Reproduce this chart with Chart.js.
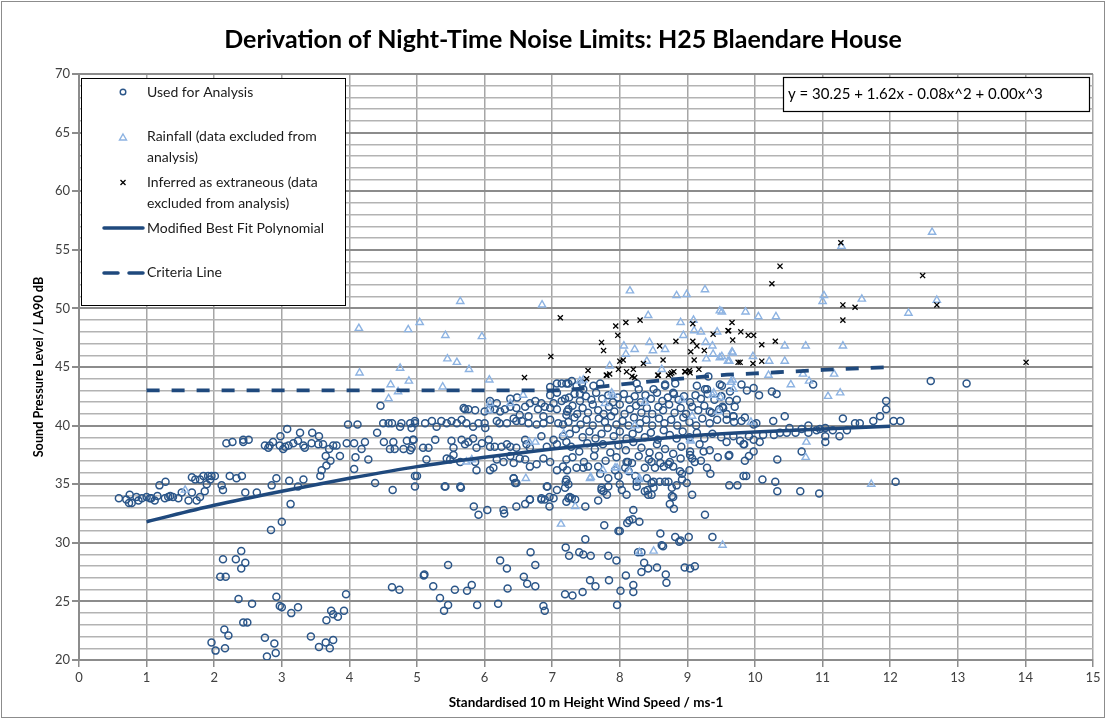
<!DOCTYPE html>
<html>
<head>
<meta charset="utf-8">
<script src="https://cdn.jsdelivr.net/npm/chart.js@4.4.0/dist/chart.umd.min.js"></script>
<style>
  html, body { margin: 0; padding: 0; background: #fff; }
  #wrap { width: 1112px; height: 724px; position: relative; }
</style>
</head>
<body>
<div id="wrap"><canvas id="chart" width="1112" height="724"></canvas></div>
<script>
const chartTitle = "Derivation of Night-Time Noise Limits: H25 Blaendare House";
const xAxisTitle = "Standardised 10 m Height Wind Speed / ms-1";
const yAxisTitle = "Sound Pressure Level / LA90 dB";
const equationText = "y = 30.25 + 1.62x - 0.08x^2 + 0.00x^3";

// used for analysis (circles)
const usedPoints = [
  [0.59,33.8],[0.70,33.7],[0.75,34.1],[0.74,33.4],[0.78,33.4],[0.85,33.9],[0.88,33.6],[0.93,33.8],[1.00,33.9],[1.05,33.8],
  [1.07,33.8],[1.12,33.6],[1.16,34.0],[1.19,34.9],[1.28,35.2],[1.27,33.8],[1.32,33.9],[1.35,34.0],[1.39,33.9],[1.47,33.8],
  [1.52,34.3],[1.62,33.6],[1.67,34.3],[1.67,35.6],[1.72,35.4],[1.74,33.6],[1.79,33.9],[1.79,35.4],[1.84,35.7],[1.86,34.4],
  [1.89,35.0],[1.91,35.7],[1.94,35.4],[1.96,35.7],[2.01,35.7],[2.11,34.9],[2.13,34.5],[2.18,38.5],[2.27,38.6],[2.23,35.7],
  [2.33,35.5],[2.41,35.7],[2.43,38.8],[2.43,38.6],[2.51,38.8],[2.46,34.3],[2.63,34.3],[2.75,38.3],[2.80,38.1],[2.82,38.3],
  [2.87,38.6],[2.85,34.9],[2.92,35.5],[2.97,38.3],[2.98,39.1],[3.02,38.0],[3.05,38.2],[3.08,39.7],[3.11,35.3],[3.10,38.3],
  [3.17,38.5],[3.24,38.7],[3.24,34.8],[3.27,39.4],[3.32,35.4],[3.32,38.3],[3.34,38.1],[3.44,38.5],[3.45,39.4],[3.54,38.4],
  [3.55,39.1],[3.57,35.7],[3.59,36.2],[3.61,38.4],[3.65,37.4],[3.66,36.6],[3.70,38.0],[3.72,37.0],[3.76,38.3],[3.81,38.3],
  [3.86,37.4],[3.96,38.5],[3.98,40.1],[4.07,38.5],[4.07,36.3],[4.09,37.3],[4.12,40.1],[4.18,38.0],[4.23,38.6],[4.28,37.1],
  [4.38,35.1],[4.41,39.4],[4.46,41.7],[4.50,40.2],[4.51,38.6],[4.58,40.2],[4.60,38.0],[4.63,40.2],[4.64,34.5],[4.65,38.6],
  [4.67,38.0],[4.75,39.9],[4.77,40.2],[4.80,38.0],[4.85,38.7],[4.90,40.2],[4.92,39.8],[4.92,38.1],[4.97,34.8],[5.00,35.7],
  [4.97,40.2],[4.94,38.8],
  [2.84,31.1],[3.00,31.8],[3.13,33.3],[2.13,28.6],[2.09,27.1],[2.17,27.1],[2.32,28.6],[2.40,29.3],[2.40,27.8],[2.46,28.3],
  [2.36,25.2],[2.56,24.8],[2.43,23.2],[2.49,23.2],[2.15,22.6],[2.21,22.1],[1.96,21.5],[2.02,20.8],[2.16,21.0],[2.75,21.9],
  [2.89,21.4],[2.91,20.6],[2.92,25.4],[2.97,24.6],[3.00,24.5],[3.14,24.0],[3.24,24.5],[2.78,20.3],[3.43,22.0],[3.55,21.1],
  [3.65,21.5],[3.66,23.4],[3.71,21.0],[3.73,24.2],[3.76,21.7],[3.76,23.9],[3.83,23.7],[3.92,24.2],[3.95,25.6],[4.63,26.2],
  [4.74,26.0],[5.11,27.3],
  [5.10,27.2],[5.24,26.3],[5.34,25.3],[5.40,24.2],[5.46,24.7],[5.46,28.1],[5.56,26.0],[5.74,25.9],[5.81,26.4],[5.89,24.7],
  [5.42,34.8],[5.65,34.7],[5.84,33.1],[5.91,32.4],[6.04,32.8],[6.28,32.8],[6.29,32.5],[6.47,33.1],[6.23,28.5],[6.33,27.8],
  [6.34,26.1],[6.20,24.8],[6.58,27.1],[6.63,26.5],[6.75,26.3],[6.68,29.2],[6.75,28.1],[6.87,24.6],[6.89,24.2],[6.45,35.1],
  [6.43,35.5],[6.60,33.3],[6.67,33.7],[6.84,33.7],[6.96,33.9],[6.96,33.1],[6.93,34.8],[7.07,34.5],[7.20,35.2],[7.21,33.5],
  [7.34,33.7],[7.26,33.9],[7.49,33.1],[7.68,33.6],[7.73,34.7],[7.76,34.4],[7.49,30.3],[7.20,29.6],[7.25,28.9],[7.40,29.2],
  [7.46,29.0],[7.57,28.9],[7.83,28.9],[7.95,28.5],[7.77,31.5],[7.98,31.0],[8.00,31.0],[7.19,25.6],[7.30,25.5],[7.45,25.8],
  [7.56,26.8],[7.64,26.3],[7.84,26.8],[7.96,24.7],[8.01,25.9],[8.09,27.2],[8.20,26.4],[8.20,25.8],[8.11,31.7],[8.14,31.9],
  [8.19,32.0],[8.29,31.8],[8.20,32.8],[8.27,29.2],[8.32,29.2],[8.36,28.3],[8.32,27.5],[8.42,27.8],[8.55,27.9],[8.68,27.3],
  [8.69,26.6],[8.60,30.8],[8.62,29.8],[8.64,29.7],[8.82,30.5],[8.88,30.1],[8.90,30.2],[9.02,30.5],[8.96,27.9],[9.04,27.8],
  [9.11,28.0],[9.37,30.5],[9.26,32.4],[8.74,33.3],[8.80,32.9],[8.79,33.9],[8.47,34.1],[8.41,34.5],[8.50,35.2],[8.59,35.2],
  [8.72,35.2],[8.84,34.9],[9.62,34.9],[9.74,34.9],[9.62,37.5],[9.24,37.8],[9.04,37.5],
  [4.97,40.4],[5.12,40.2],[5.22,40.4],[5.29,39.9],[5.36,40.4],[5.44,40.2],[5.51,40.4],[5.59,40.2],[5.66,40.5],[5.73,40.2],
  [5.83,39.9],[5.91,40.2],[6.00,40.2],[6.01,39.8],[6.22,40.2],[6.33,40.2],[6.55,40.4],[6.65,40.2],[6.77,40.1],[6.87,40.2],
  [6.97,40.5],[7.09,40.2],[7.16,40.1],
  [5.71,41.4],[5.76,41.4],[5.86,41.3],[6.00,41.2],[6.08,41.4],[6.15,41.4],[6.23,41.2],[6.30,41.4],[6.38,41.6],[6.47,41.5],
  [6.52,40.9],[6.60,41.6],[6.67,41.9],[6.75,42.1],[6.79,41.4],[6.84,41.9],[6.89,41.6],[6.97,41.5],[7.02,41.9],[7.07,41.4],
  [7.14,42.1],[7.19,42.3],[7.24,41.4],[7.21,40.9],[6.87,40.8],[6.65,40.8],[6.43,40.6],[6.18,40.4],[6.47,40.4],
  [4.95,38.8],[5.09,38.1],[5.17,38.1],[5.27,38.8],[5.51,38.7],[5.54,38.1],[5.66,38.8],[5.71,38.4],[5.76,38.6],[5.83,38.9],
  [5.88,38.1],[5.96,38.5],[6.06,38.8],[6.08,38.2],[6.15,38.2],[6.25,38.2],[6.33,38.4],[6.38,38.2],[6.47,38.1],[6.60,38.8],
  [6.62,38.4],[6.67,38.1],[6.84,39.1],[6.92,38.2],[7.02,38.8],[7.07,38.4],[7.16,39.1],[7.21,38.6],
  [4.90,37.9],[5.14,37.1],[5.44,37.2],[5.49,37.1],[5.54,37.5],[5.64,36.9],[5.86,36.9],[5.88,36.2],[6.08,36.2],[6.13,36.4],
  [6.18,37.1],[6.28,36.9],[6.38,37.4],[6.43,36.8],[6.52,37.2],[6.60,37.1],[6.67,36.5],[6.77,36.7],[6.87,37.2],[6.97,36.9],
  [7.07,36.2],[7.16,36.5],[7.21,37.1],
  [4.97,35.7],[5.41,34.8],[5.64,34.8],[6.43,35.5],[6.47,35.1],[6.92,34.8],[7.21,35.4],[7.19,34.7],[6.84,33.8],[6.89,33.7],
  [7.02,33.8],[6.67,33.7],
  [5.69,41.5],[6.08,42.1],[6.18,41.9],[6.38,42.3],[6.48,42.4],[6.97,42.6],[7.07,42.8],[7.41,42.7],[6.97,43.3],[7.07,43.6],
  [7.14,43.6],[7.21,43.6],[7.29,43.8],[7.36,43.4],[7.44,43.6],[7.61,43.4],[7.71,43.6],[8.28,43.1],[8.50,43.1],[8.67,43.4],
  [8.79,42.8],[9.14,43.4],[9.29,43.1],[9.51,43.4],[9.63,42.9],[9.53,41.5],[9.33,41.2],[9.68,40.8],[9.70,41.6],[7.24,43.6],
  [7.46,43.1],[9.31,44.2],[9.48,43.5],[9.26,43.1],[8.25,43.6],[8.67,43.5],[8.82,43.6],
  [7.53,36.5],[7.46,36.4],[7.68,36.5],[7.71,35.9],[7.83,35.5],[7.93,36.2],[7.98,35.7],[8.10,36.9],[8.08,36.4],[8.18,36.8],
  [8.13,36.1],[8.23,35.7],[8.25,35.2],[8.37,36.4],[8.40,35.5],[8.47,36.9],[8.52,36.4],[8.60,36.8],[8.65,36.5],[8.72,36.7],
  [8.79,36.5],[8.89,36.1],[8.92,35.9],[9.03,36.2],[9.07,37.2],[9.11,36.9],[9.29,36.4],[9.34,35.9],[7.22,36.2],[7.36,36.4],
  [7.24,35.0],[7.24,33.8],[7.29,33.8],
  [8.47,35.1],[8.50,34.7],[8.37,34.4],[8.67,35.2],[8.92,35.4],[8.99,35.1],[8.77,34.7],[7.83,34.8],[8.00,35.0],[8.03,34.5],
  [8.10,34.1],[7.73,34.5],[8.25,34.8],[9.07,34.1],[8.77,34.0],[8.42,34.1],[7.81,34.1],
  [7.25,42.4],[7.33,42.7],[7.41,42.1],[7.50,42.5],[7.58,42.2],[7.65,42.8],[7.74,42.3],[7.83,42.6],[7.90,42.0],[7.97,42.4],
  [8.06,42.7],[8.14,42.2],[8.22,42.5],[8.31,42.0],[8.38,42.6],[8.46,42.3],[8.55,42.8],[8.63,42.1],[8.71,42.4],[8.80,42.7],
  [8.87,42.2],[8.95,42.5],[9.04,42.0],[9.12,42.6],[9.20,42.3],[9.30,42.7],[9.40,42.2],[9.50,42.5],[9.62,42.1],
  [7.22,41.2],[7.30,41.7],[7.37,41.0],[7.45,41.5],[7.53,41.1],[7.60,41.8],[7.68,41.3],[7.76,41.0],[7.84,41.6],[7.92,41.2],
  [8.00,41.8],[8.07,41.0],[8.15,41.4],[8.24,41.7],[8.32,41.1],[8.40,41.5],[8.48,41.0],[8.57,41.6],[8.64,41.3],[8.73,41.8],
  [8.81,41.1],[8.90,41.5],[8.98,41.0],[9.07,41.6],[9.16,41.3],[9.25,41.7],[9.36,41.1],[9.47,41.4],[9.58,41.0],
  [7.24,40.3],[7.33,40.7],[7.42,40.1],[7.51,40.5],[7.60,40.0],[7.69,40.6],[7.78,40.3],[7.87,40.8],[7.95,40.1],[8.04,40.4],
  [8.13,40.0],[8.21,40.7],[8.30,40.2],[8.39,40.5],[8.48,40.0],[8.58,40.6],[8.66,40.2],[8.76,40.5],[8.85,40.0],[8.94,40.7],
  [9.03,40.3],[9.13,40.0],[9.22,40.6],[9.33,40.2],[9.44,40.5],
  [7.26,39.3],[7.35,39.7],[7.45,39.0],[7.55,39.5],[7.64,38.9],[7.73,39.3],[7.82,39.8],[7.91,39.1],[8.00,39.5],[8.10,38.9],
  [8.19,39.3],[8.28,39.7],[8.37,39.0],[8.46,39.4],[8.56,38.8],[8.65,39.6],[8.74,39.2],[8.84,38.9],[8.93,39.5],[9.03,39.0],
  [9.14,39.4],[9.25,38.9],[9.37,39.3],[9.50,39.0],
  [7.28,38.2],[7.40,37.8],[7.52,38.5],[7.63,38.0],[7.75,38.4],[7.86,37.7],[7.98,38.3],[8.09,37.9],[8.20,38.6],[8.32,38.1],
  [8.44,37.7],[8.55,38.4],[8.67,38.0],[8.79,37.6],[8.91,38.2],[9.04,37.8],[9.18,38.4],[9.33,37.9],
  [7.30,37.3],[7.47,36.9],[7.62,37.4],[7.79,37.0],[7.95,37.3],[8.12,36.9],[8.28,37.4],[8.43,37.1],[8.58,37.4],[8.74,36.9],
  [8.90,37.2],[9.20,37.0],[9.45,37.3],
  [10.44,40.8],[10.27,40.4],[10.51,39.8],[10.60,39.4],[10.69,39.7],[10.79,39.4],[10.79,40.0],[10.91,39.6],[10.96,39.7],[11.04,39.8],
  [11.04,39.1],[11.04,38.6],[11.15,39.6],[11.25,39.1],[11.30,40.6],[11.36,39.6],[11.48,40.2],[11.55,40.2],[11.75,40.4],[11.85,40.8],
  [11.94,41.4],[11.94,42.1],[12.05,40.4],[12.15,40.4],[10.47,39.4],[10.37,39.4],[10.28,39.2],[10.12,39.2],[10.07,38.6],[9.98,38.8],
  [10.02,40.2],[10.69,37.8],[10.33,37.1],[9.98,37.8],[9.91,37.4],[9.85,37.0],[9.83,38.4],[9.61,37.4],[9.83,35.7],[9.87,35.7],
  [10.11,35.4],[10.30,35.2],[10.33,34.4],[10.67,34.4],[10.95,34.2],[9.58,38.6],[9.68,39.1],[9.78,38.7],[9.91,39.1],[9.58,40.5],
  [9.68,40.8],[9.80,40.4],[9.85,40.7],[9.80,43.5],[10.06,42.6],[9.98,43.2],[9.73,42.2],[10.25,42.9],[10.32,42.7],[10.86,43.5],
  [9.50,42.5],[9.52,41.6],[12.08,35.2],[12.60,43.8],[13.13,43.6],[9.88,43.0],[9.84,38.4],[9.69,40.3],[9.98,40.1]
];

// rainfall, excluded (triangles)
const rainPoints = [
  [1.57,34.5],[4.14,48.3],[4.87,48.2],[5.04,48.8],[4.15,44.5],[4.75,44.9],[4.88,43.8],[4.61,43.5],[4.72,42.9],[4.58,42.3],
  [5.42,47.7],[5.64,50.6],[5.96,47.6],[5.45,45.7],[5.59,45.4],[5.77,44.8],[6.07,43.9],[5.38,43.3],[6.85,50.3],[6.57,42.6],
  [8.15,51.5],[8.42,49.4],[8.84,51.1],[8.99,51.2],[9.26,51.6],[9.48,49.8],[8.90,48.8],[9.09,49.0],[9.10,48.1],[9.20,48.0],
  [9.27,47.1],[9.37,46.8],[9.38,46.1],[9.44,48.0],[9.51,45.9],[9.28,45.7],[9.62,45.5],[9.66,46.3],[8.06,46.8],[8.22,46.5],
  [8.09,46.1],[8.44,47.1],[8.49,46.4],[8.67,46.5],[8.40,45.5],[7.85,45.1],[8.62,44.8],[8.94,47.7],[7.46,43.9],[7.90,42.6],
  [9.37,42.6],[9.49,42.4],[9.64,43.7],[9.67,43.9],[6.08,41.9],[6.38,41.9],[6.06,41.3],[6.75,38.6],
  [6.61,35.5],[7.34,33.1],[7.13,31.6],[7.57,35.6],[7.75,36.2],[7.96,36.4],[8.14,36.1],[8.29,35.5],[8.29,29.2],[8.50,29.3],
  [9.52,29.8],[9.05,38.7],[5.73,36.9],[5.81,37.1],[6.66,38.6],[7.17,39.3],[8.22,40.0],
  [7.41,43.8],[7.88,42.8],[7.78,41.9],[8.37,42.0],[8.92,42.2],[9.39,42.8],[9.07,40.8],[9.04,38.8],[7.93,36.4],[7.56,35.5],
  [8.28,35.4],[9.46,41.2],
  [12.62,56.5],[11.28,55.3],[11.02,51.1],[11.00,50.6],[11.58,50.8],[12.27,49.6],[12.69,50.7],[9.51,49.7],[9.86,49.7],[10.05,49.3],
  [10.31,49.3],[10.44,46.8],[10.75,46.8],[11.30,46.8],[9.67,46.2],[9.97,45.9],[10.21,45.5],[10.44,45.5],[9.60,45.5],[9.48,45.8],
  [10.20,44.3],[10.71,44.4],[10.53,43.5],[10.80,43.8],[11.17,44.4],[11.08,42.5],[11.26,42.8],[9.65,43.7],[9.68,43.1],
  [9.94,40.3],[10.76,38.6],[10.75,37.3],[11.72,35.0]
];

// inferred as extraneous (crosses)
const extraPoints = [
  [7.12,49.2],[6.98,45.9],[6.59,44.1],[7.53,44.7],[7.51,44.0],[7.73,47.1],[7.76,46.4],[7.94,48.5],[8.09,48.8],[8.30,49.0],
  [7.97,47.7],[8.00,45.5],[8.05,45.6],[7.98,44.8],[8.10,44.6],[8.20,44.8],[8.22,44.1],[7.80,44.3],[7.85,44.4],[8.35,45.3],
  [8.59,46.8],[8.64,45.6],[8.56,44.3],[8.72,44.3],[8.75,44.4],[8.80,44.6],[8.83,47.2],[8.96,44.6],[9.03,44.7],[9.08,48.7],
  [9.08,47.2],[9.05,46.3],[9.10,45.6],[9.14,46.8],[9.17,44.8],[9.25,46.4],[9.38,47.8],[9.60,48.1],[9.66,48.8],[9.67,47.3],
  [9.75,45.4],[7.81,44.3],[8.18,44.2],[8.57,44.3],[8.77,44.5],[8.97,44.6],[9.04,44.5],
  [11.27,55.6],[10.37,53.6],[10.25,52.1],[11.30,50.3],[11.48,50.1],[11.30,49.0],[12.48,52.8],[12.69,50.3],[14.01,45.4],
  [9.61,48.1],[9.79,48.0],[9.90,47.7],[9.98,47.7],[10.10,46.9],[10.30,47.2],[9.78,45.4],[9.97,45.3],[10.10,45.5]
];

// modified best fit polynomial
const fitX = [1, 2, 3, 4, 5, 6, 7, 8, 9, 10, 11, 12];
const fitY = [31.8, 33.2, 34.4, 35.5, 36.5, 37.3, 38.0, 38.6, 39.1, 39.45, 39.7, 39.95];

// criteria line
const critX = [1, 7, 7.5, 8, 8.5, 9, 9.5, 10, 11, 12];
const critY = [43, 43, 43.2, 43.5, 43.8, 44.05, 44.3, 44.45, 44.75, 45];

const BLUE = "#2b5689";
const LINE_BLUE = "#1f497d";
const RAIN = "#8db3e2";
const FONT = "Lato";

function toXY(list) {
  return list.map(([x, y]) => ({ x, y }));
}

const decorPlugin = {
  id: "decor",
  afterDraw(chart) {
    const ctx = chart.ctx;
    ctx.save();

    // outer frame
    ctx.strokeStyle = "#8c8c8c";
    ctx.lineWidth = 1;
    ctx.strokeRect(1.5, 1.5, 1103, 716);

    // title
    ctx.fillStyle = "#000";
    ctx.font = `bold 25px ${FONT}`;
    ctx.textAlign = "center";
    ctx.textBaseline = "middle";
    ctx.fillText(chartTitle, 563, 40);

    // legend box
    ctx.fillStyle = "#fff";
    ctx.fillRect(81, 78, 264, 227);
    ctx.strokeStyle = "#000";
    ctx.lineWidth = 1;
    ctx.strokeRect(81.5, 78.5, 264, 227);

    ctx.font = `14px ${FONT}`;
    ctx.textAlign = "left";
    ctx.fillStyle = "#1a1a1a";
    const tx = 147;
    ctx.fillText("Used for Analysis", tx, 92);
    ctx.fillText("Rainfall (data excluded from", tx, 136);
    ctx.fillText("analysis)", tx, 157);
    ctx.fillText("Inferred as extraneous (data", tx, 182);
    ctx.fillText("excluded from analysis)", tx, 203);
    ctx.fillText("Modified Best Fit Polynomial", tx, 228);
    ctx.fillText("Criteria Line", tx, 272);

    // legend markers
    ctx.strokeStyle = BLUE;
    ctx.lineWidth = 1.4;
    ctx.beginPath();
    ctx.arc(123, 92, 2.8, 0, Math.PI * 2);
    ctx.stroke();

    ctx.strokeStyle = RAIN;
    ctx.beginPath();
    ctx.moveTo(123, 134);
    ctx.lineTo(126.5, 140);
    ctx.lineTo(119.5, 140);
    ctx.closePath();
    ctx.stroke();

    ctx.strokeStyle = "#000";
    ctx.lineWidth = 1.3;
    ctx.beginPath();
    ctx.moveTo(120.5, 180);
    ctx.lineTo(125.5, 185);
    ctx.moveTo(125.5, 180);
    ctx.lineTo(120.5, 185);
    ctx.stroke();

    ctx.strokeStyle = LINE_BLUE;
    ctx.lineWidth = 3.5;
    ctx.lineCap = "round";
    ctx.beginPath();
    ctx.moveTo(104, 228);
    ctx.lineTo(143, 228);
    ctx.stroke();
    ctx.beginPath();
    ctx.moveTo(104, 273);
    ctx.lineTo(118, 273);
    ctx.moveTo(129, 273);
    ctx.lineTo(143, 273);
    ctx.stroke();

    // equation box
    ctx.fillStyle = "#fff";
    ctx.fillRect(783, 77, 306, 34);
    ctx.strokeStyle = "#000";
    ctx.lineWidth = 1.2;
    ctx.strokeRect(783.5, 77.5, 306, 34);
    ctx.fillStyle = "#000";
    ctx.font = `15px ${FONT}`;
    ctx.textBaseline = "middle";
    ctx.fillText(equationText, 788, 94);

    ctx.restore();
  }
};

const majorY = (c) => c.tick && c.tick.value % 5 === 0;

new Chart(document.getElementById("chart"), {
  type: "scatter",
  data: {
    datasets: [
      {
        label: "Modified Best Fit Polynomial",
        data: fitX.map((x, i) => ({ x, y: fitY[i] })),
        showLine: true,
        borderColor: LINE_BLUE,
        borderWidth: 3.5,
        pointRadius: 0,
        cubicInterpolationMode: "monotone",
        order: 0
      },
      {
        label: "Criteria Line",
        data: critX.map((x, i) => ({ x, y: critY[i] })),
        showLine: true,
        borderColor: LINE_BLUE,
        borderWidth: 3.8,
        borderDash: [13, 12],
        pointRadius: 0,
        cubicInterpolationMode: "monotone",
        order: 1
      },
      {
        label: "Inferred as extraneous (data excluded from analysis)",
        data: toXY(extraPoints),
        pointStyle: "crossRot",
        pointRadius: 3.6,
        pointBorderWidth: 1.3,
        pointBorderColor: "#000",
        pointBackgroundColor: "#000",
        order: 2
      },
      {
        label: "Rainfall (data excluded from analysis)",
        data: toXY(rainPoints),
        pointStyle: "triangle",
        pointRadius: 4.2,
        pointBorderWidth: 1.4,
        pointBorderColor: RAIN,
        pointBackgroundColor: "rgba(0,0,0,0)",
        order: 3
      },
      {
        label: "Used for Analysis",
        data: toXY(usedPoints),
        pointStyle: "circle",
        pointRadius: 3.5,
        pointBorderWidth: 1.5,
        pointBorderColor: BLUE,
        pointBackgroundColor: "rgba(0,0,0,0)",
        order: 4
      }
    ]
  },
  plugins: [decorPlugin],
  options: {
    responsive: false,
    animation: false,
    events: [],
    layout: {
      padding: { top: 74, right: 19, left: 26, bottom: 0 }
    },
    plugins: {
      legend: { display: false },
      tooltip: { enabled: false },
      title: { display: false }
    },
    scales: {
      x: {
        type: "linear",
        min: 0,
        max: 15,
        afterFit(scale) { scale.height = 64; },
        ticks: {
          stepSize: 1,
          padding: 3,
          color: "#404040",
          font: { family: FONT, size: 13 }
        },
        grid: {
          color: "#a6a6a6",
          lineWidth: 1.5,
          tickLength: 7,
          tickColor: "#8c8c8c"
        },
        border: { color: "#8c8c8c", width: 2 },
        title: {
          display: true,
          text: xAxisTitle,
          color: "#000",
          font: { family: FONT, size: 13.5, weight: "bold" },
          padding: { top: 0, bottom: 13 }
        }
      },
      y: {
        type: "linear",
        min: 20,
        max: 70,
        afterFit(scale) { scale.width = 53; },
        ticks: {
          stepSize: 1,
          autoSkip: false,
          padding: 2,
          color: "#404040",
          font: { family: FONT, size: 13 },
          callback: (v) => (v % 5 === 0 ? v : "")
        },
        grid: {
          color: (c) => (majorY(c) ? "#8c8c8c" : "#b3b3b3"),
          lineWidth: (c) => (majorY(c) ? 2 : 1.5),
          tickLength: 7,
          tickColor: (c) => (majorY(c) ? "#8c8c8c" : "rgba(0,0,0,0)")
        },
        border: { color: "#8c8c8c", width: 2 },
        title: {
          display: true,
          text: yAxisTitle,
          color: "#000",
          font: { family: FONT, size: 12.7, weight: "bold" },
          padding: { top: 5, bottom: 0 }
        }
      }
    }
  }
});
</script>
</body>
</html>
